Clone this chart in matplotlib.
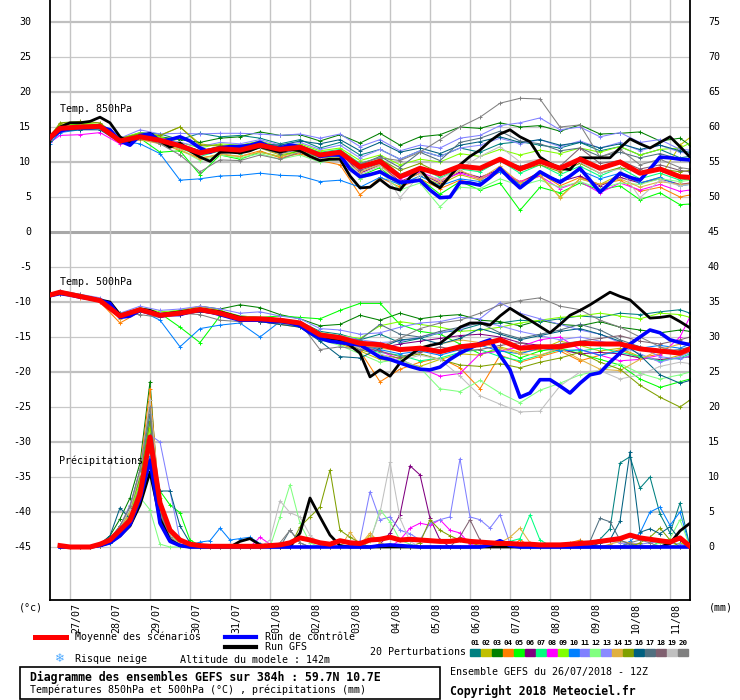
import numpy as np
import matplotlib
matplotlib.use("Agg")
import matplotlib.pyplot as plt
import matplotlib.transforms as mtransforms
from matplotlib.patches import Rectangle
from matplotlib.lines import Line2D

W, H = 740, 700
FONT = "DejaVu Sans Mono"

# hours since 26/07/2018 12Z
t_mid = np.concatenate([[0], np.arange(6, 379, 12), [384]])   # 06Z / 18Z + ends
t_6h = np.arange(0, 385, 6)
t_rr = np.arange(6, 385, 6)

dates = ["27/07", "28/07", "29/07", "30/07", "31/07", "01/08", "02/08", "03/08",
         "04/08", "05/08", "06/08", "07/08", "08/08", "09/08", "10/08", "11/08"]

colors = ["#008080", "#c0c000", "#008000", "#ff8000", "#00ff00", "#800080", "#00ff80",
          "#ff00ff", "#80ff00", "#0080ff", "#8080ff", "#80ff80", "#8a8aff", "#e0b040",
          "#80a000", "#006080", "#507080", "#806070", "#c0c0c0", "#808080"]

# ---- 850 hPa temperature (°C) ----
t850_mean = [13.5, 14.8, 15.0, 15.1, 13.0, 13.6, 13.1, 12.3, 11.3, 11.9, 11.7, 12.4, 11.8, 12.1, 11.0, 11.4, 9.3,
             10.1, 7.9, 9.1, 8.3, 9.4, 9.1, 10.4, 9.0, 10.1, 9.1, 10.4, 9.1, 10.0, 8.4, 9.0, 7.9, 7.8]
t850_gfs = [13.6, 15.0, 15.6, 15.6, 15.8, 16.4, 15.6, 13.6, 12.7, 13.6, 14.1, 13.0, 12.1, 12.7, 11.6, 10.7,
            10.1, 11.4, 11.4, 11.3, 11.6, 12.2, 11.8, 11.4, 11.8, 11.6, 10.8, 10.2, 10.4, 10.4, 8.0, 6.3,
            6.4, 7.5, 6.4, 6.0, 7.8, 9.0, 7.2, 6.3, 8.0, 9.6, 10.8, 11.7, 13.0, 14.0, 14.6, 13.6,
            12.9, 10.7, 9.8, 9.1, 8.9, 10.6, 10.6, 10.6, 10.6, 12.0, 13.3, 12.6, 12.0, 12.8, 13.6, 12.2, 10.7]
t850_ctrl = [13.4, 14.4, 14.8, 14.9, 14.9, 15.0, 14.6, 13.0, 12.4, 13.8, 14.0, 13.0, 13.2, 13.6, 13.0, 12.0,
             11.4, 12.0, 12.2, 12.2, 12.4, 12.8, 12.2, 12.0, 12.4, 12.2, 11.6, 10.8, 11.0, 11.0, 9.0, 7.9,
             8.2, 8.6, 7.8, 7.1, 7.2, 7.4, 6.0, 4.9, 5.0, 7.1, 7.0, 6.7, 7.8, 9.1, 7.6, 6.3,
             7.4, 8.6, 7.8, 7.1, 8.0, 9.1, 7.4, 5.7, 7.0, 8.4, 7.8, 7.4, 9.0, 10.7, 10.6, 10.4, 10.3]
t850_members = [
    [13.2, 14.6, 14.8, 15.0, 13.2, 14.2, 14.0, 13.2, 14.1, 13.6, 13.8, 13.4, 12.6, 13.2, 12.0, 12.8, 11.0,
     11.8, 10.4, 11.6, 10.8, 12.0, 11.4, 12.6, 12.9, 12.4, 12.0, 12.8, 11.6, 12.2, 11.0, 11.8, 10.6, 10.8],
    [13.8, 15.4, 15.6, 15.3, 13.1, 14.0, 13.8, 15.0, 12.6, 12.2, 11.4, 12.0, 11.0, 11.6, 10.2, 10.6, 7.6,
     8.8, 6.6, 8.0, 6.8, 8.2, 7.4, 9.0, 6.8, 8.0, 5.0, 7.6, 6.8, 8.2, 7.0, 7.8, 12.4, 13.5],
    [13.4, 15.0, 15.2, 15.0, 13.4, 14.0, 13.6, 13.2, 12.8, 13.4, 13.6, 14.3, 13.8, 13.9, 13.0, 13.9, 12.7,
     14.1, 12.4, 13.6, 13.9, 15.0, 14.8, 15.6, 15.0, 15.2, 14.4, 15.3, 14.0, 14.1, 14.3, 13.0, 13.4, 12.4],
    [13.0, 14.4, 14.8, 14.9, 12.8, 13.2, 12.8, 11.6, 10.6, 11.0, 10.8, 11.6, 10.6, 11.2, 10.2, 9.6, 5.3,
     7.8, 6.4, 7.6, 6.2, 7.4, 6.8, 8.6, 7.2, 8.4, 6.6, 7.8, 6.8, 7.4, 5.8, 6.4, 5.0, 5.3],
    [13.6, 15.2, 15.4, 15.1, 12.8, 13.4, 11.4, 11.6, 8.2, 11.0, 10.4, 11.4, 10.8, 11.6, 10.6, 10.8, 8.0,
     9.2, 6.8, 7.6, 5.4, 7.2, 6.0, 7.0, 3.1, 6.4, 5.6, 7.0, 6.0, 6.6, 4.6, 5.6, 3.9, 4.0],
    [13.3, 14.8, 15.0, 15.1, 13.0, 13.8, 13.4, 12.6, 11.6, 12.2, 12.4, 12.6, 11.8, 12.2, 10.8, 11.4, 8.4,
     9.6, 7.2, 8.4, 7.0, 8.6, 7.8, 9.0, 7.0, 8.6, 7.2, 8.0, 6.6, 7.8, 7.0, 7.6, 6.8, 7.0],
    [13.4, 15.0, 15.1, 14.9, 13.2, 13.8, 12.8, 12.0, 10.8, 11.6, 11.2, 12.0, 11.6, 12.4, 11.4, 11.8, 9.8,
     10.6, 8.2, 9.2, 7.8, 9.0, 8.6, 10.2, 8.4, 9.6, 8.2, 9.4, 8.0, 9.2, 7.6, 8.4, 7.4, 7.6],
    [12.8, 13.8, 13.9, 14.2, 12.6, 13.4, 13.2, 12.8, 11.2, 12.0, 12.2, 12.8, 11.6, 12.2, 10.6, 11.0, 9.0,
     10.2, 7.6, 8.6, 7.4, 8.4, 7.6, 8.8, 7.2, 8.0, 6.2, 7.2, 5.6, 7.0, 6.0, 6.8, 5.8, 6.0],
    [13.6, 15.2, 15.5, 15.4, 13.4, 14.2, 13.6, 12.8, 12.0, 12.6, 12.4, 13.0, 12.2, 12.6, 11.6, 12.0, 10.2,
     11.0, 9.6, 10.4, 10.0, 11.2, 10.8, 11.8, 11.0, 11.7, 11.2, 12.0, 11.4, 12.2, 11.0, 11.8, 12.0, 12.7],
    [12.6, 14.2, 14.6, 14.8, 13.0, 12.6, 11.2, 7.4, 7.6, 8.0, 8.1, 8.4, 8.1, 8.0, 7.2, 7.4, 6.4,
     7.8, 6.8, 8.0, 6.6, 7.6, 7.2, 8.6, 6.8, 8.2, 7.4, 8.8, 7.6, 8.4, 7.0, 7.8, 6.6, 6.8],
    [13.2, 14.8, 15.0, 15.2, 13.4, 14.6, 14.0, 14.1, 14.0, 14.1, 14.1, 14.0, 13.8, 14.0, 13.4, 14.0, 12.2,
     13.2, 11.6, 12.4, 12.0, 13.4, 13.8, 15.2, 15.6, 16.3, 14.6, 15.0, 13.6, 14.2, 12.8, 13.2, 11.8, 11.7],
    [13.4, 15.0, 15.2, 15.0, 12.8, 13.4, 12.6, 11.8, 10.2, 11.0, 10.6, 11.2, 10.4, 11.0, 10.0, 10.4, 7.6,
     8.6, 6.0, 7.0, 3.6, 6.4, 6.2, 7.6, 6.6, 7.4, 6.4, 7.2, 6.2, 7.0, 6.8, 7.6, 7.2, 7.4],
    [13.5, 15.0, 15.2, 15.2, 13.2, 13.8, 13.4, 12.8, 12.2, 12.8, 12.6, 13.2, 12.4, 12.8, 11.8, 12.4, 10.6,
     11.8, 10.4, 11.6, 10.8, 12.0, 12.4, 13.4, 12.6, 13.2, 12.2, 13.0, 12.0, 12.8, 11.6, 12.4, 11.4, 11.2],
    [13.0, 14.6, 14.8, 15.0, 12.8, 13.2, 12.6, 11.8, 10.4, 11.2, 10.8, 11.4, 10.8, 11.4, 10.4, 10.6, 8.6,
     9.6, 7.0, 8.4, 7.2, 8.8, 7.6, 9.4, 7.0, 8.2, 4.9, 7.6, 6.8, 7.6, 6.4, 7.2, 6.8, 6.9],
    [13.6, 15.6, 15.8, 15.6, 13.4, 14.0, 13.8, 15.0, 12.4, 12.4, 12.0, 12.6, 11.8, 12.2, 11.0, 11.6, 9.4,
     10.4, 8.8, 9.8, 8.4, 9.4, 9.0, 10.2, 8.8, 9.6, 8.6, 9.8, 8.4, 9.2, 8.6, 9.0, 8.6, 8.8],
    [13.0, 14.4, 14.6, 14.6, 12.8, 13.4, 13.0, 12.4, 11.6, 12.2, 12.0, 12.6, 12.4, 13.0, 12.6, 13.2, 11.6,
     12.8, 11.4, 12.0, 11.2, 12.4, 12.9, 13.6, 12.8, 13.2, 12.4, 12.8, 12.0, 12.6, 11.8, 12.4, 11.6, 11.4],
    [13.4, 14.8, 15.0, 15.0, 13.0, 13.6, 13.0, 12.4, 11.0, 11.6, 11.4, 12.0, 11.2, 11.8, 10.8, 11.2, 9.6,
     10.8, 9.2, 11.4, 10.2, 12.8, 13.4, 14.4, 13.0, 12.6, 11.6, 12.0, 10.8, 11.4, 10.6, 11.2, 10.4, 10.2],
    [13.2, 14.6, 14.8, 14.8, 13.0, 13.6, 13.2, 12.4, 11.4, 12.0, 11.8, 12.4, 11.6, 12.0, 10.8, 11.2, 8.8,
     9.8, 7.8, 8.8, 8.4, 9.6, 9.0, 10.2, 9.4, 10.0, 9.4, 12.0, 9.8, 10.2, 9.0, 9.6, 8.8, 8.6],
    [13.6, 15.0, 15.2, 15.0, 13.2, 13.8, 13.0, 12.2, 11.0, 11.8, 11.4, 12.2, 11.6, 12.0, 10.6, 11.0, 8.2,
     9.4, 4.9, 8.2, 7.6, 9.0, 10.8, 12.2, 10.0, 10.4, 9.2, 10.0, 8.4, 9.0, 4.9, 7.4, 6.6, 6.8],
    [13.4, 14.8, 15.0, 15.0, 13.0, 13.6, 12.6, 11.0, 8.6, 10.3, 10.2, 11.0, 10.4, 11.4, 10.8, 11.2, 9.8,
     10.6, 10.2, 11.4, 13.2, 15.0, 16.4, 18.4, 19.1, 19.0, 15.0, 15.3, 10.7, 11.8, 9.6, 10.4, 9.2, 9.0],
]

# ---- 500 hPa temperature (°C) ----
t500_mean = [-9.0, -8.6, -9.2, -9.8, -12.0, -11.1, -11.9, -11.6, -11.1, -11.6, -12.4, -12.4, -12.6, -13.0, -14.7, -15.1, -15.9,
             -16.1, -16.8, -16.6, -17.1, -16.4, -16.1, -15.4, -16.6, -16.4, -16.4, -15.9, -16.0, -16.0, -16.7, -17.0, -17.3, -16.7]
t500_gfs = [-9.0, -8.7, -8.9, -9.2, -9.4, -9.7, -10.0, -11.8, -11.8, -11.0, -11.2, -11.8, -11.6, -11.4, -11.2, -11.0,
            -11.2, -11.4, -11.8, -12.2, -12.4, -12.4, -12.4, -12.6, -12.8, -13.2, -14.0, -15.0, -15.2, -15.4, -16.2, -17.3,
            -20.7, -19.7, -20.6, -18.7, -17.6, -16.6, -16.2, -15.9, -14.8, -13.6, -13.0, -13.0, -13.3, -12.0, -10.9, -11.8,
            -12.6, -13.5, -14.4, -13.2, -11.9, -11.2, -10.4, -9.5, -8.6, -9.2, -9.7, -11.0, -12.3, -12.2, -12.0, -12.8, -13.7]
t500_ctrl = [-9.1, -8.8, -9.0, -9.3, -9.5, -9.8, -10.2, -12.2, -12.0, -11.2, -11.4, -12.0, -11.8, -11.8, -11.4, -11.2,
             -11.4, -11.8, -12.2, -12.6, -12.6, -12.6, -12.8, -12.8, -13.0, -13.4, -14.4, -15.2, -15.6, -15.8, -16.0, -16.1,
             -17.0, -17.9, -18.2, -18.7, -19.2, -19.6, -19.7, -19.3, -18.2, -17.3, -16.6, -15.9, -15.4, -17.6, -19.7, -23.6,
             -23.0, -21.1, -21.1, -22.0, -23.0, -21.6, -20.4, -20.1, -18.6, -17.3, -16.0, -15.0, -14.0, -14.4, -15.4, -15.8, -16.1]
t500_members = [
    [-9.0, -8.7, -9.2, -9.8, -12.2, -11.4, -11.8, -11.6, -11.2, -11.4, -12.0, -12.2, -12.4, -12.8, -14.2, -14.6, -15.4,
     -14.6, -15.8, -15.2, -14.4, -14.0, -13.2, -13.0, -12.6, -12.8, -12.4, -12.0, -12.2, -11.6, -11.8, -11.4, -11.1, -11.6],
    [-9.2, -8.8, -9.3, -9.8, -12.2, -11.2, -12.0, -11.8, -11.0, -11.4, -12.2, -12.4, -12.8, -13.4, -15.0, -16.0, -17.0,
     -18.2, -18.6, -19.2, -18.2, -17.4, -17.6, -16.4, -17.2, -16.8, -15.6, -16.2, -17.0, -16.6, -17.8, -18.4, -17.6, -17.2],
    [-9.0, -8.6, -9.1, -9.6, -11.8, -11.0, -11.6, -11.4, -10.6, -11.0, -10.4, -10.8, -11.8, -12.4, -13.4, -13.2, -11.9,
     -12.6, -11.6, -12.4, -12.0, -11.8, -12.6, -12.8, -13.4, -12.6, -13.2, -13.4, -12.8, -13.6, -14.0, -14.4, -14.0, -14.2],
    [-9.2, -8.9, -9.4, -10.0, -13.0, -11.4, -12.0, -11.2, -10.6, -11.2, -12.4, -12.8, -13.2, -13.6, -15.2, -15.8, -17.0,
     -21.4, -19.6, -18.6, -18.0, -19.4, -22.4, -17.6, -18.6, -17.8, -17.0, -18.4, -17.6, -16.8, -18.0, -17.4, -17.0, -16.8],
    [-8.8, -8.5, -9.0, -9.6, -11.6, -11.0, -11.6, -13.6, -15.8, -12.0, -12.4, -12.2, -12.0, -12.2, -12.4, -11.2, -10.2,
     -10.2, -13.2, -14.2, -14.6, -16.0, -17.4, -16.8, -18.0, -17.0, -16.6, -17.4, -18.2, -19.0, -21.0, -22.2, -21.4, -21.0],
    [-9.0, -8.6, -9.2, -9.8, -12.0, -11.2, -11.8, -11.6, -11.2, -11.8, -12.6, -12.6, -12.8, -13.4, -15.0, -15.4, -16.4,
     -16.6, -16.0, -15.6, -15.2, -14.8, -14.6, -15.0, -15.8, -16.2, -16.8, -17.4, -17.2, -17.4, -18.0, -18.2, -18.0, -17.8],
    [-9.0, -8.6, -9.2, -9.8, -12.0, -11.0, -11.6, -11.2, -11.0, -11.6, -12.4, -12.6, -12.8, -13.2, -14.8, -15.6, -16.6,
     -17.2, -17.6, -18.4, -18.0, -17.2, -16.8, -17.8, -18.4, -17.6, -16.8, -17.0, -16.6, -17.2, -17.8, -18.4, -18.0, -17.4],
    [-9.2, -8.8, -9.3, -9.9, -12.2, -11.4, -12.2, -11.8, -11.4, -11.8, -12.6, -12.8, -13.0, -13.4, -15.2, -15.8, -16.6,
     -17.0, -18.2, -19.4, -20.6, -20.2, -17.4, -17.0, -16.4, -15.4, -15.0, -16.8, -17.6, -18.4, -18.2, -17.6, -15.0, -12.1],
    [-8.9, -8.5, -9.0, -9.6, -11.8, -10.8, -11.4, -11.2, -10.8, -11.2, -12.0, -12.2, -12.4, -12.8, -14.4, -14.8, -15.2,
     -13.4, -12.8, -13.2, -13.6, -14.2, -14.0, -13.6, -13.0, -12.6, -12.2, -12.0, -11.6, -12.0, -12.4, -11.6, -11.8, -12.2],
    [-9.0, -8.7, -9.2, -9.8, -12.0, -11.2, -12.6, -16.4, -13.8, -13.3, -13.0, -15.0, -12.8, -13.2, -15.0, -15.6, -16.2,
     -16.8, -17.4, -17.0, -17.6, -16.8, -16.2, -17.0, -17.4, -16.6, -17.0, -16.8, -17.6, -17.0, -16.6, -16.2, -16.6, -16.0],
    [-8.8, -8.4, -8.9, -9.4, -11.6, -10.6, -11.2, -11.0, -10.6, -11.0, -11.6, -11.4, -12.0, -12.4, -13.8, -14.0, -14.6,
     -14.4, -13.6, -13.0, -12.8, -12.2, -12.4, -10.1, -11.6, -12.4, -13.2, -14.0, -14.6, -15.8, -16.4, -17.8, -18.2, -17.6],
    [-9.0, -8.6, -9.1, -9.7, -12.0, -11.0, -11.6, -11.4, -11.0, -11.6, -12.4, -12.6, -13.0, -13.6, -15.4, -16.2, -17.4,
     -18.6, -18.2, -19.4, -22.4, -22.8, -21.2, -23.0, -24.4, -22.6, -21.6, -20.4, -19.8, -18.8, -20.2, -21.0, -20.4, -20.0],
    [-9.0, -8.6, -9.1, -9.6, -11.8, -11.0, -11.6, -11.4, -11.0, -11.4, -12.2, -12.4, -12.6, -13.0, -14.6, -14.8, -15.4,
     -15.8, -15.6, -15.0, -14.4, -13.8, -12.8, -13.4, -14.2, -14.8, -15.4, -15.0, -15.6, -16.2, -17.4, -18.6, -17.8, -17.2],
    [-9.2, -8.8, -9.3, -9.8, -12.4, -11.2, -11.8, -11.4, -10.8, -11.4, -12.6, -12.8, -13.2, -13.4, -15.2, -15.6, -16.2,
     -16.6, -17.0, -16.4, -16.0, -15.4, -15.8, -16.6, -17.4, -17.6, -16.6, -18.2, -19.6, -19.8, -18.2, -16.8, -16.0, -15.8],
    [-9.0, -8.6, -9.2, -9.8, -12.0, -11.2, -11.8, -11.6, -11.2, -11.6, -12.4, -12.6, -12.8, -13.2, -14.6, -15.4, -16.8,
     -17.6, -18.0, -17.4, -18.2, -19.0, -19.2, -18.8, -19.4, -18.6, -18.0, -17.2, -18.6, -19.6, -21.9, -23.6, -25.0, -24.0],
    [-9.0, -8.6, -9.2, -9.8, -12.0, -11.4, -12.0, -11.8, -11.4, -11.8, -12.6, -12.8, -13.2, -13.6, -15.6, -17.8, -18.0,
     -16.6, -15.4, -15.2, -16.0, -15.2, -13.8, -14.6, -15.4, -14.8, -14.2, -13.8, -14.6, -15.6, -17.6, -20.4, -21.6, -21.2],
    [-9.1, -8.8, -9.2, -9.8, -12.0, -11.2, -11.8, -11.6, -11.2, -11.6, -12.4, -12.6, -12.8, -13.4, -14.8, -15.4, -15.4,
     -13.2, -14.6, -15.0, -14.2, -13.6, -13.0, -14.4, -15.2, -14.6, -14.0, -13.2, -14.0, -15.4, -16.4, -17.0, -16.8, -16.4],
    [-9.0, -8.6, -9.2, -9.8, -12.0, -11.2, -11.8, -11.6, -11.2, -11.6, -12.6, -12.6, -12.8, -13.2, -15.0, -15.8, -16.4,
     -17.0, -17.8, -17.2, -16.4, -17.0, -16.8, -16.2, -15.8, -16.6, -16.0, -15.6, -15.2, -14.8, -15.6, -16.0, -15.4, -15.0],
    [-9.0, -8.6, -9.2, -9.8, -12.0, -11.2, -11.8, -11.4, -11.0, -11.4, -12.2, -12.4, -12.8, -13.2, -14.8, -15.6, -16.6,
     -17.4, -18.4, -17.6, -18.2, -20.6, -23.4, -24.6, -25.7, -25.6, -22.0, -20.0, -19.8, -21.0, -20.4, -19.2, -18.6, -18.8],
    [-9.0, -8.4, -8.9, -9.6, -11.6, -11.8, -12.2, -11.6, -11.8, -12.6, -12.8, -12.4, -12.6, -13.0, -16.8, -16.4, -16.8,
     -16.4, -15.2, -13.8, -13.0, -12.6, -11.6, -10.4, -9.8, -9.4, -10.6, -11.1, -12.6, -13.6, -15.0, -16.4, -17.2, -16.6],
]

# ---- 6h precipitation (mm), from +6h ----
rr_mean = [0.2, 0.0, 0.0, 0.0, 0.4, 1.0, 2.4, 3.8, 7.5, 15.7, 6.3, 2.4, 1.0, 0.4, 0.2, 0.1,
           0.1, 0.1, 0.1, 0.1, 0.1, 0.2, 0.3, 0.6, 1.3, 1.0, 0.6, 0.4, 0.9, 0.6, 0.5, 1.0,
           1.1, 1.4, 1.0, 1.1, 1.0, 0.9, 0.8, 0.8, 1.0, 0.8, 0.7, 0.6, 0.5, 0.5, 0.4, 0.4,
           0.3, 0.3, 0.3, 0.4, 0.5, 0.6, 0.8, 1.0, 1.2, 1.7, 1.3, 1.1, 0.9, 0.7, 1.3, 0.1]
rr_ctrl = [0, 0, 0, 0, 0.2, 0.6, 1.6, 3.2, 6.8, 12.4, 3.4, 0.8, 0.2, 0, 0, 0,
           0, 0, 0, 0, 0, 0, 0, 0, 0, 0, 0, 0, 0, 0, 0, 0,
           0.2, 0.3, 0.2, 0.1, 0, 0, 0, 0, 0, 0, 0, 0.3, 0.9, 0.2, 0, 0,
           0, 0, 0, 0, 0, 0, 0, 0, 0, 0, 0, 0, 0, 0, 0, 0]
rr_gfs = [0, 0, 0, 0, 0.2, 0.6, 1.6, 3.0, 6.0, 10.7, 4.0, 1.0, 0.2, 0, 0, 0,
          0, 0, 0.8, 1.2, 0.3, 0, 0, 0, 2.0, 7.0, 4.3, 1.7, 0.2, 0, 0, 0,
          0, 0, 0, 0, 0, 0, 0, 0, 0, 0, 0, 0, 0, 0, 0, 0,
          0, 0, 0, 0, 0, 0, 0, 0, 0, 0, 0, 0, 0, 0.5, 2.3, 3.4]
rr_members = [
    [0, 0, 0, 0, 0.3, 1.2, 3.0, 5.0, 10.0, 18.0, 5.0, 1.6, 0.4, 0, 0, 0,
     0, 0, 0, 0, 0, 0, 0, 0, 0, 0, 0, 0, 0, 0, 0, 0,
     0, 0, 0, 0, 0, 0, 0, 0, 0, 0, 0, 0, 0, 0, 0, 0,
     0, 0, 0, 0, 0.4, 0.6, 1.1, 2.6, 12.0, 12.9, 8.4, 10.0, 4.7, 2.0, 6.3, 0],
    [0, 0, 0, 0, 0.2, 0.8, 2.4, 4.6, 9.0, 17.0, 4.4, 1.2, 0.3, 0, 0, 0,
     0, 0, 0, 0, 0, 0, 0, 0, 0, 0, 0, 0, 0, 0, 0, 1.7,
     0.6, 0, 0, 0, 0, 0, 0, 0, 0, 0, 0, 0, 0, 0, 0, 0,
     0, 0, 0, 0, 0, 0, 0, 0, 0, 0, 0, 0, 0, 0, 0, 0],
    [0, 0, 0, 0, 0.4, 1.6, 4.0, 7.0, 12.0, 23.6, 4.0, 1.0, 0.2, 0, 0, 0,
     0, 0, 0, 0, 0, 0, 0, 0, 0, 0, 0, 0, 0, 0, 0, 0,
     0, 0, 0, 0, 0, 0, 0, 0, 0, 0, 0, 0, 0, 0, 0, 0,
     0, 0, 0, 0, 0, 0, 0, 0, 0, 0.6, 0, 0, 0, 0, 0, 0],
    [0, 0, 0, 0, 0.2, 0.8, 2.6, 5.0, 11.0, 22.6, 5.6, 1.0, 0.2, 0, 0, 0,
     0, 0, 0, 0, 0, 0, 0, 0, 0, 0, 0, 0, 0, 0, 0, 0,
     0, 0, 0, 0, 0, 0, 0, 0, 0, 0, 0, 0, 0, 0, 1.0, 0.2,
     0, 0, 0, 0.6, 1.0, 0.4, 0, 0, 0, 0, 0, 0, 0, 0, 0, 0],
    [0, 0, 0, 0, 0.2, 0.6, 2.0, 4.0, 8.0, 16.0, 8.0, 6.0, 4.9, 1.0, 0.2, 0,
     0, 0, 0, 0, 0, 0, 0, 0, 0, 0, 0, 0, 0, 0, 0, 0,
     0, 0, 0, 0, 0, 0, 0, 0, 0, 0, 0, 0, 0, 0, 0, 0,
     0, 0, 0, 0, 0, 0, 0, 0, 0, 0, 0, 0, 0, 0, 0, 0],
    [0, 0, 0, 0, 0.2, 0.6, 2.2, 4.2, 8.4, 14.0, 3.6, 1.0, 0.2, 0, 0, 0,
     0, 0, 0, 0, 0, 0, 0, 0, 0, 0, 0, 0, 0, 0, 0, 0,
     0.4, 2.0, 4.6, 11.6, 10.3, 4.1, 1.0, 0, 0, 0, 0, 0, 0, 0, 0, 0,
     0, 0, 0, 0, 0, 0, 0, 0, 0, 0, 0, 0, 0, 0, 0, 0],
    [0, 0, 0, 0, 0.3, 1.0, 3.0, 5.4, 10.0, 19.0, 4.0, 1.2, 0.3, 0, 0, 0,
     0, 0, 0, 0, 0, 0, 0, 0, 0, 0, 0, 0, 0, 0, 0, 0,
     0, 0, 0, 0, 0, 0, 0, 0, 0, 0, 0, 0, 0.2, 0.8, 1.2, 4.6,
     1.0, 0.2, 0, 0, 0, 0, 0, 0, 0, 0, 0, 0, 0.8, 0, 0, 0],
    [0, 0, 0, 0, 0.2, 0.8, 2.4, 4.4, 8.8, 15.0, 6.0, 2.0, 0.5, 0, 0, 0,
     0, 0, 0, 0, 1.4, 0.4, 0, 0, 0, 0, 0, 0, 0, 0, 0, 0,
     0, 0, 1.0, 2.7, 3.4, 3.1, 3.9, 2.4, 2.0, 0.4, 0, 0, 0, 0, 0, 0,
     0, 0, 0, 0, 0, 0, 0, 0, 0, 0, 0, 0, 0, 0, 0, 0],
    [0, 0, 0, 0, 0.2, 0.6, 2.0, 4.6, 9.4, 17.0, 7.0, 2.0, 0.4, 0, 0, 0,
     0, 0, 0, 0, 0, 0, 0, 0, 0, 0, 0, 0, 0, 0, 0, 0,
     0, 0, 0, 0, 0, 0, 0, 0, 0, 0, 0, 0, 0, 0, 0, 0,
     0, 0, 0, 0, 0, 0, 0, 0, 0, 0, 0, 0, 0, 0, 0.6, 0],
    [0, 0, 0, 0, 0.2, 0.6, 2.0, 3.6, 7.4, 13.0, 4.0, 1.0, 0.2, 0.3, 0.7, 0.9,
     2.7, 1.0, 1.2, 1.4, 0.5, 0, 0, 0, 0, 0, 0, 0, 0, 0, 0, 0,
     0, 0, 0, 0, 0, 0, 0, 0, 0, 0, 0, 0, 0, 0, 0, 0,
     0, 0, 0, 0, 0, 0, 0, 0, 0, 0.8, 2.0, 5.0, 5.7, 3.1, 5.0, 0],
    [0, 0, 0, 0, 0.2, 0.8, 2.0, 4.0, 8.0, 16.0, 15.0, 8.0, 1.0, 0.3, 0, 0,
     0, 0, 0, 0, 0, 0, 0, 0, 0, 0, 0, 0, 0, 0, 0.9, 7.9,
     3.9, 4.3, 2.4, 1.9, 1.0, 3.4, 3.9, 4.3, 12.6, 4.3, 3.9, 2.7, 4.6, 0.5, 0, 0,
     0, 0, 0, 0, 0, 0.6, 1.0, 1.0, 0.8, 0.6, 0.4, 0.6, 0.8, 0.6, 0.4, 0],
    [0, 0, 0, 0, 0.4, 1.0, 3.0, 5.0, 7.1, 5.3, 0.4, 0, 0, 0, 0, 0,
     0, 0, 0, 0, 0, 0, 4.3, 8.9, 3.4, 0.6, 0, 0, 0, 0, 0, 0.8,
     5.3, 3.6, 1.0, 0.4, 0, 0, 0, 0, 0, 0, 0, 0, 0, 0, 0, 0,
     0, 0, 0, 0, 0, 0, 0, 0, 0, 0, 0, 0, 0.6, 1.2, 3.9, 0],
    [0, 0, 0, 0, 0.3, 1.0, 3.0, 6.0, 11.0, 20.0, 5.0, 1.4, 0.3, 0, 0, 0,
     0, 0, 0, 0, 0, 0, 0, 0, 0, 0, 0, 0, 0, 0, 0, 0,
     0, 0, 0, 0, 0, 0, 0, 0, 0, 0, 0, 0, 0, 0, 0, 0,
     0, 0, 0, 0, 0, 0, 0.8, 0.8, 0.6, 0.4, 0, 0, 0, 0, 0, 0],
    [0, 0, 0, 0, 0.2, 0.8, 2.6, 5.0, 10.4, 21.0, 6.0, 1.6, 0.4, 0, 0, 0,
     0, 0, 0, 0, 0, 0, 0, 0, 0, 0, 0, 0, 0, 2.1, 0.3, 2.0,
     0.6, 0, 0, 0, 0, 0, 0, 0, 0, 0, 0, 0, 0.6, 1.4, 2.7, 0.6,
     0, 0, 0, 0, 0, 0, 0, 0.4, 0.8, 0.6, 0.2, 0, 0, 0, 0, 0],
    [0, 0, 0, 0, 0.2, 1.0, 2.8, 5.4, 10.0, 18.0, 4.4, 1.2, 0.2, 0, 0, 0,
     0, 0, 0, 0, 0, 0, 0, 0, 2.9, 4.3, 5.7, 11.0, 2.4, 1.4, 0.6, 0,
     0, 0, 0, 0, 0.6, 3.9, 2.4, 1.6, 1.0, 0.6, 0.2, 0, 0, 0, 0, 0,
     0, 0, 0, 0, 0, 0, 0, 0, 0, 0, 0.6, 1.4, 2.7, 1.0, 0, 0],
    [0, 0, 0, 0, 0.4, 1.6, 5.6, 4.0, 7.0, 12.0, 8.0, 8.0, 3.0, 0.6, 0, 0,
     0, 0, 0, 0, 0, 0, 0, 0, 0, 0, 0, 0, 0, 0, 0, 0,
     0, 0, 0, 0, 0, 0, 0, 0, 0, 0, 0, 0, 0, 0, 0, 0,
     0, 0, 0, 0, 0, 0, 0.6, 1.0, 3.7, 13.6, 2.1, 2.6, 1.9, 2.9, 1.0, 0],
    [0, 0, 0, 0, 0.3, 1.0, 3.0, 5.6, 11.0, 19.0, 5.0, 1.4, 0.3, 0, 0, 0,
     0, 0, 0, 0, 0, 0, 0, 2.4, 0.6, 0, 0, 0, 0, 0, 0, 0,
     0, 0, 0, 0, 0, 0, 0, 0, 0, 0, 0, 0, 0, 0, 0, 0,
     0, 0, 0, 0, 0.8, 0.8, 4.1, 3.6, 1.0, 0.4, 0, 0, 0, 0, 0, 0],
    [0, 0, 0, 0, 0.2, 0.8, 2.4, 4.4, 8.6, 16.0, 4.6, 1.2, 0.3, 0, 0, 0,
     0, 0, 0, 0, 0, 0, 0, 0, 0, 0, 0, 0, 0, 0, 0, 0,
     0, 0, 0, 0, 0, 0, 0, 0, 1.5, 3.9, 1.0, 0.3, 0, 0, 0, 0,
     0, 0, 0, 0, 0, 0, 0, 0, 0, 0, 0, 0, 0, 0, 0, 0],
    [0, 0, 0, 0, 0.3, 1.0, 2.8, 5.4, 10.6, 21.0, 6.0, 1.6, 0.3, 0, 0, 0,
     0, 0, 0, 0, 0, 1.0, 6.6, 4.9, 4.3, 1.7, 0.4, 0, 0, 0, 0, 1.0,
     4.9, 12.1, 4.1, 0.8, 0, 0, 0, 0, 0, 0, 0, 0, 0, 0, 0, 0,
     0, 0, 0, 0, 0, 0, 0, 0, 0, 0, 0, 0, 0, 0, 0, 0],
    [0, 0, 0, 0, 0.3, 1.0, 3.0, 5.8, 11.0, 20.0, 5.0, 1.4, 0.3, 0, 0, 0,
     0, 0, 0, 0, 0, 0, 0.6, 2.4, 0.6, 0, 0, 0, 0, 0, 0, 0,
     0, 0, 0, 0, 0, 0, 0, 0, 0, 0, 0, 0, 0, 0, 0, 0,
     0, 0, 0, 0, 0, 0, 0, 0, 0, 0.6, 1.0, 0.6, 0, 0, 0, 0],
]

RR_BASE = -45   # precipitation 0 mm sits on the -45 line


def fx(x):
    return x / W


def fy(y):
    return 1 - y / H


fig = plt.figure(figsize=(W / 100, H / 100), dpi=100)
fig.patch.set_facecolor("white")
ax = fig.add_axes([fx(50), fy(600), 640 / W, 600 / H])
ax.set_xlim(0, 384)
ax.set_ylim((232 - 600) / 7, 232 / 7)
for s in ("left", "right", "bottom"):
    ax.spines[s].set_linewidth(1.3)
ax.spines["top"].set_visible(False)
ax.set_xticks([])
ax.set_yticks([])

# grid
for v in range(-45, 31, 5):
    if v == 0:
        ax.axhline(v, color="#a8a8a8", lw=2.2, zorder=1)
    elif v % 10 == 0:
        ax.axhline(v, color="#c0c0c0", lw=1.6, zorder=1)
    else:
        ax.axhline(v, color="#c8c8c8", lw=0.9, zorder=1)
for k in range(len(dates)):
    ax.axvline(12 + 24 * k, color="#c4c4c4", lw=1.0, zorder=1)

# perturbations
for i, c in enumerate(colors):
    kw = dict(color=c, lw=0.75, marker="+", ms=3, mew=0.7, zorder=2)
    ax.plot(t_mid, t850_members[i], **kw)
    ax.plot(t_mid, t500_members[i], **kw)
    ax.plot(t_rr, np.array(rr_members[i]) + RR_BASE, **kw)

# GFS, control, mean
for tt, vals in ((t_6h, t850_gfs), (t_6h, t500_gfs), (t_rr, np.array(rr_gfs) + RR_BASE)):
    ax.plot(tt, vals, color="black", lw=2.0, zorder=3)
for tt, vals in ((t_6h, t850_ctrl), (t_6h, t500_ctrl), (t_rr, np.array(rr_ctrl) + RR_BASE)):
    ax.plot(tt, vals, color="#0000ff", lw=2.6, zorder=4)
for tt, vals in ((t_mid, t850_mean), (t_mid, t500_mean), (t_rr, np.array(rr_mean) + RR_BASE)):
    ax.plot(tt, vals, color="#ff0000", lw=3.6, zorder=5)

# axis labels (left in °C, right = left + 45)
trans_y = mtransforms.blended_transform_factory(ax.transAxes, ax.transData)
for v in range(-45, 31, 5):
    ax.text(-19 / 640, v, str(v), transform=trans_y, ha="right", va="center",
            fontsize=7.2, family=FONT)
    ax.text(1 + 18 / 640, v, str(v + 45), transform=trans_y, ha="left", va="center",
            fontsize=7.2, family=FONT)

trans_x = mtransforms.blended_transform_factory(ax.transData, ax.transAxes)
for k, d in enumerate(dates):
    ax.text(12 + 24 * k + 3.6, -3 / 600, d, transform=trans_x, rotation=90,
            ha="center", va="top", fontsize=7.2, family=FONT)

txt = dict(fontsize=7.2, family=FONT, va="center")
fig.text(fx(60), fy(109), "Temp. 850hPa", ha="left", **txt)
fig.text(fx(60), fy(282), "Temp. 500hPa", ha="left", **txt)
fig.text(fx(59), fy(461), "Précipitations", ha="left", **txt)
fig.text(fx(31), fy(607), "(°c)", ha="center", **txt)
fig.text(fx(721), fy(607), "(mm)", ha="center", **txt)

# legend
fig.add_artist(Line2D([fx(35), fx(66)], [fy(637)] * 2, color="#ff0000", lw=3.6))
fig.text(fx(75), fy(637), "Moyenne des scénarios", ha="left", **txt)
fig.add_artist(Line2D([fx(225), fx(256)], [fy(637)] * 2, color="#0000ff", lw=3.0))
fig.text(fx(265), fy(637), "Run de contrôle", ha="left", **txt)
fig.add_artist(Line2D([fx(225), fx(256)], [fy(647)] * 2, color="black", lw=3.0))
fig.text(fx(265), fy(647), "Run GFS", ha="left", **txt)
fig.text(fx(60), fy(658), "❄", ha="center", va="center", fontsize=8.5,
         color="#4aa8ff", family="DejaVu Sans")
fig.text(fx(75), fy(659), "Risque neige", ha="left", **txt)
fig.text(fx(180), fy(660), "Altitude du modele : 142m", ha="left", **txt)
fig.text(fx(370), fy(652), "20 Perturbations", ha="left", **txt)

for i, c in enumerate(colors):
    x0 = 470 + i * 10.95
    fig.patches.append(Rectangle((fx(x0), fy(656)), 10 / W, 7 / H, color=c,
                                 transform=fig.transFigure, figure=fig))
    fig.text(fx(x0 + 5), fy(643), "%02d" % (i + 1), ha="center", va="center",
             fontsize=5.4, family=FONT, weight="bold")

fig.patches.append(Rectangle((fx(20), fy(699)), 420 / W, 32 / H, fill=False,
                             edgecolor="black", lw=1.2,
                             transform=fig.transFigure, figure=fig))
fig.text(fx(30), fy(677), "Diagramme des ensembles GEFS sur 384h : 59.7N 10.7E",
         ha="left", va="center", fontsize=8.3, family=FONT, weight="bold")
fig.text(fx(30), fy(690), "Températures 850hPa et 500hPa (°C) , précipitations (mm)",
         ha="left", **txt)
fig.text(fx(450), fy(672), "Ensemble GEFS du 26/07/2018 - 12Z", ha="left", **txt)
fig.text(fx(450), fy(691), "Copyright 2018 Meteociel.fr", ha="left", va="center",
         fontsize=8.3, family=FONT, weight="bold")

fig.savefig("out.png", dpi=100)
